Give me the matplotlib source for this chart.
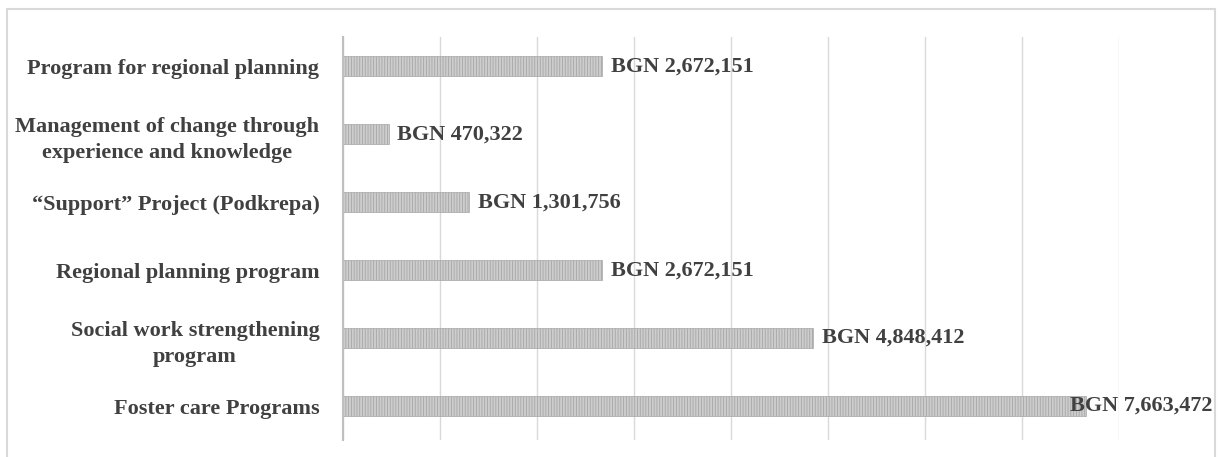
import matplotlib.pyplot as plt
from matplotlib.patches import Rectangle
from matplotlib.transforms import blended_transform_factory

# Data (top to bottom as shown in the chart)
programs = [
    'Program for regional planning',
    'Management of change through\nexperience and knowledge',
    '\u201cSupport\u201d Project (Podkrepa)',
    'Regional planning program',
    'Social work strengthening\nprogram',
    'Foster care Programs',
]
amounts = [2672151, 470322, 1301756, 2672151, 4848412, 7663472]
value_labels = ['BGN 2,672,151', 'BGN 470,322', 'BGN 1,301,756',
                'BGN 2,672,151', 'BGN 4,848,412', 'BGN 7,663,472']

W, H = 1220, 457
plt.rcParams['font.family'] = ['Liberation Serif', 'DejaVu Serif']
plt.rcParams['hatch.linewidth'] = 0.6
plt.rcParams['hatch.color'] = '#939393'

fig = plt.figure(figsize=(W / 100, H / 100), dpi=100)
ax = fig.add_axes([343 / W, 1 - 440 / H, (1119 - 343) / W, (440 - 37) / H])

ypos = list(range(len(programs)))
bars = ax.barh(ypos, amounts, height=0.29, color='#cdcdcd', edgecolor='#a6a6a6',
               linewidth=0.5, hatch='||||||', zorder=3)

ax.set_xlim(0, 8_000_000)
ax.set_ylim(5.5, -0.43)
ax.set_xticks(range(0, 8_000_001, 1_000_000))
ax.set_xticklabels([])
ax.tick_params(axis='x', length=0)
ax.tick_params(axis='y', length=0, pad=17)
ax.grid(axis='x', color='#d9d9d9', linewidth=1, zorder=0)

ax.set_yticks(ypos)
ax.set_yticklabels(programs, fontsize=16, fontweight='bold', color='#404040')
for t in ax.get_yticklabels():
    t.set_multialignment('center')
    t.set_linespacing(1.4)

for side in ['top', 'right', 'bottom']:
    ax.spines[side].set_visible(False)
ax.spines['left'].set_color('#bfbfbf')
ax.spines['left'].set_linewidth(1.5)
ax.spines['left'].set_zorder(4)

# value labels; the widest bar gets its label pulled back to fit in the frame
edge = blended_transform_factory(fig.transFigure, ax.transData)
for bar, lab in zip(bars, value_labels):
    yc = bar.get_y() + bar.get_height() / 2
    end = bar.get_width()
    if end > 0.9 * ax.get_xlim()[1]:
        ax.annotate(lab, xy=(1212 / W, yc), xycoords=edge,
                    ha='right', va='center', fontsize=16, fontweight='bold',
                    color='#404040', zorder=5, annotation_clip=False)
    else:
        ax.annotate(lab, xy=(end, yc), xytext=(6, 0), textcoords='offset points',
                    ha='left', va='center', fontsize=16, fontweight='bold',
                    color='#404040', zorder=5)

# light outer frame
fig.add_artist(Rectangle((7 / W, -0.05), (1215 - 7) / W, 1.05 - 9 / H,
                         transform=fig.transFigure, fill=False,
                         edgecolor='#d9d9d9', linewidth=1.5))

fig.savefig('out.png', dpi=100, facecolor='white')
